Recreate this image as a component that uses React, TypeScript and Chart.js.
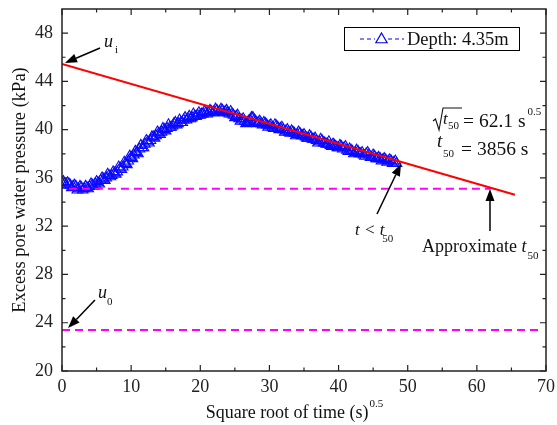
import React, { useEffect, useRef } from "react";
import { Chart, registerables } from "chart.js";

Chart.register(...registerables);

// ---- data ----
const sqrtTime = [
  0, 0.2, 0.4, 0.6, 0.8, 1, 1.2, 1.4, 1.6, 1.8,
  2, 2.2, 2.4, 2.6, 2.8, 3, 3.2, 3.4, 3.6, 3.8,
  4, 4.2, 4.4, 4.6, 4.8, 5, 5.2, 5.4, 5.6, 5.8,
  6, 6.2, 6.4, 6.6, 6.8, 7, 7.2, 7.4, 7.6, 7.8,
  8, 8.2, 8.4, 8.6, 8.8, 9, 9.2, 9.4, 9.6, 9.8,
  10, 10.2, 10.4, 10.6, 10.8, 11, 11.2, 11.4, 11.6, 11.8,
  12, 12.2, 12.4, 12.6, 12.8, 13, 13.2, 13.4, 13.6, 13.8,
  14, 14.2, 14.4, 14.6, 14.8, 15, 15.2, 15.4, 15.6, 15.8,
  16, 16.2, 16.4, 16.6, 16.8, 17, 17.2, 17.4, 17.6, 17.8,
  18, 18.2, 18.4, 18.6, 18.8, 19, 19.2, 19.4, 19.6, 19.8,
  20, 20.2, 20.4, 20.6, 20.8, 21, 21.2, 21.4, 21.6, 21.8,
  22, 22.2, 22.4, 22.6, 22.8, 23, 23.2, 23.4, 23.6, 23.8,
  24, 24.2, 24.4, 24.6, 24.8, 25, 25.2, 25.4, 25.6, 25.8,
  26, 26.2, 26.4, 26.6, 26.8, 27, 27.2, 27.4, 27.6, 27.8,
  28, 28.2, 28.4, 28.6, 28.8, 29, 29.2, 29.4, 29.6, 29.8,
  30, 30.2, 30.4, 30.6, 30.8, 31, 31.2, 31.4, 31.6, 31.8,
  32, 32.2, 32.4, 32.6, 32.8, 33, 33.2, 33.4, 33.6, 33.8,
  34, 34.2, 34.4, 34.6, 34.8, 35, 35.2, 35.4, 35.6, 35.8,
  36, 36.2, 36.4, 36.6, 36.8, 37, 37.2, 37.4, 37.6, 37.8,
  38, 38.2, 38.4, 38.6, 38.8, 39, 39.2, 39.4, 39.6, 39.8,
  40, 40.2, 40.4, 40.6, 40.8, 41, 41.2, 41.4, 41.6, 41.8,
  42, 42.2, 42.4, 42.6, 42.8, 43, 43.2, 43.4, 43.6, 43.8,
  44, 44.2, 44.4, 44.6, 44.8, 45, 45.2, 45.4, 45.6, 45.8,
  46, 46.2, 46.4, 46.6, 46.8, 47, 47.2, 47.4, 47.6, 47.8,
  48, 48.2, 48.4,
];
const pressure = [
  35.6, 35.7, 35.5, 35.4, 35.6, 35.5, 35.4, 35.2, 35.3, 35.4,
  35.3, 35.0, 35.1, 35.3, 35.2, 35.0, 35.1, 35.3, 35.2, 35.1,
  35.3, 35.5, 35.4, 35.3, 35.5, 35.7, 35.6, 35.5, 35.8, 36.0,
  35.9, 35.8, 36.0, 36.3, 36.2, 36.1, 36.2, 36.5, 36.4, 36.3,
  36.5, 36.9, 36.8, 36.7, 36.9, 37.3, 37.2, 37.1, 37.4, 37.8,
  37.7, 37.6, 37.9, 38.2, 38.1, 38.0, 38.4, 38.7, 38.5, 38.5,
  38.8, 39.1, 39.0, 38.9, 39.1, 39.4, 39.4, 39.3, 39.5, 39.8,
  39.7, 39.6, 39.8, 40.1, 40.0, 39.9, 40.1, 40.4, 40.2, 40.2,
  40.3, 40.5, 40.6, 40.4, 40.5, 40.8, 40.6, 40.6, 40.8, 41.0,
  40.8, 40.9, 41.1, 40.9, 41.0, 41.3, 41.1, 41.1, 41.2, 41.4,
  41.2, 41.3, 41.3, 41.5, 41.4, 41.3, 41.4, 41.6, 41.5, 41.4,
  41.5, 41.7, 41.6, 41.4, 41.5, 41.7, 41.6, 41.4, 41.5, 41.6,
  41.4, 41.3, 41.5, 41.3, 41.2, 41.0, 41.1, 41.2, 40.9, 40.7,
  40.8, 40.9, 40.7, 40.5, 40.6, 40.7, 40.8, 41.0, 41.0, 40.8,
  40.7, 40.5, 40.6, 40.7, 40.5, 40.4, 40.6, 40.5, 40.4, 40.2,
  40.3, 40.4, 40.2, 40.1, 40.4, 40.3, 40.2, 40.0, 40.1, 40.2,
  40.0, 39.8, 39.9, 40.0, 39.8, 39.7, 39.9, 39.8, 39.7, 39.5,
  39.6, 39.8, 39.7, 39.5, 39.5, 39.6, 39.4, 39.3, 39.3, 39.5,
  39.4, 39.2, 39.2, 39.3, 39.1, 38.9, 39.0, 39.2, 39.1, 38.9,
  38.9, 38.8, 38.8, 39.0, 38.7, 38.6, 38.8, 38.7, 38.6, 38.5,
  38.5, 38.7, 38.6, 38.4, 38.5, 38.6, 38.3, 38.2, 38.4, 38.3,
  38.2, 38.0, 38.1, 38.3, 38.2, 38.0, 38.0, 38.1, 37.9, 37.8,
  38.0, 38.1, 37.9, 37.7, 37.7, 37.9, 37.8, 37.6, 37.6, 37.7,
  37.6, 37.4, 37.5, 37.6, 37.5, 37.3, 37.4, 37.5, 37.4, 37.2,
  37.3, 37.4, 37.2,
];
const fitLineX = [0, 65.5];
const fitLineY = [45.45, 34.6];
const halfLineX = [1, 62];
const halfLineY = [35.1, 35.1];
const u0LineX = [0, 69.5];
const u0LineY = [23.4, 23.4];

const xMajorTicks = [0, 10, 20, 30, 40, 50, 60, 70];
const xMinorTicks = [5, 15, 25, 35, 45, 55, 65];
const yMajorTicks = [20, 24, 28, 32, 36, 40, 44, 48];
const yMinorTicks = [22, 26, 30, 34, 38, 42, 46];

const seriesLabel = "Depth: 4.35m";
const xTitle = "Square root of time (s)";
const xTitleSup = "0.5";
const yTitle = "Excess pore water pressure (kPa)";

const FONT = '"Liberation Serif", "Times New Roman", serif';
const AXIS_COLOR = "#222";

const pts = (xs: number[], ys: number[]) => xs.map((x, i) => ({ x, y: ys[i] }));

function arrow(ctx: CanvasRenderingContext2D, x1: number, y1: number, x2: number, y2: number) {
  const ang = Math.atan2(y2 - y1, x2 - x1);
  const hl = 12, hw = 4.5;
  const bx = x2 - hl * Math.cos(ang), by = y2 - hl * Math.sin(ang);
  ctx.strokeStyle = "#000";
  ctx.fillStyle = "#000";
  ctx.lineWidth = 1.5;
  ctx.beginPath();
  ctx.moveTo(x1, y1);
  ctx.lineTo(bx, by);
  ctx.stroke();
  ctx.beginPath();
  ctx.moveTo(x2, y2);
  ctx.lineTo(bx + hw * Math.sin(ang), by - hw * Math.cos(ang));
  ctx.lineTo(bx - hw * Math.sin(ang), by + hw * Math.cos(ang));
  ctx.closePath();
  ctx.fill();
}

function txt(ctx: CanvasRenderingContext2D, s: string, x: number, y: number, size: number, italic = false, align: CanvasTextAlign = "left") {
  ctx.font = `${italic ? "italic " : ""}${size}px ${FONT}`;
  ctx.textAlign = align;
  ctx.textBaseline = "alphabetic";
  ctx.fillStyle = "#111";
  ctx.fillText(s, x, y);
  return ctx.measureText(s).width;
}

const overlay = {
  id: "overlay",
  afterDraw(chart: any) {
    const { ctx, chartArea: a, scales } = chart;
    const xs = scales.x, ys = scales.y;
    const X = (v: number) => xs.getPixelForValue(v);
    const Y = (v: number) => ys.getPixelForValue(v);
    ctx.save();

    // frame
    ctx.strokeStyle = AXIS_COLOR;
    ctx.lineWidth = 1.5;
    ctx.strokeRect(a.left, a.top, a.right - a.left, a.bottom - a.top);

    // inward ticks
    ctx.lineWidth = 1.2;
    ctx.beginPath();
    const tick = (vals: number[], len: number) => {
      vals.forEach((v) => {
        const px = X(v);
        ctx.moveTo(px, a.bottom); ctx.lineTo(px, a.bottom - len);
        ctx.moveTo(px, a.top); ctx.lineTo(px, a.top + len);
      });
    };
    const ytick = (vals: number[], len: number) => {
      vals.forEach((v) => {
        const py = Y(v);
        ctx.moveTo(a.left, py); ctx.lineTo(a.left + len, py);
        ctx.moveTo(a.right, py); ctx.lineTo(a.right - len, py);
      });
    };
    tick(xMajorTicks, 6); tick(xMinorTicks, 3.5);
    ytick(yMajorTicks, 6); ytick(yMinorTicks, 3.5);
    ctx.stroke();

    // axis titles
    ctx.font = `18px ${FONT}`;
    const wMain = ctx.measureText(xTitle).width;
    ctx.font = `11px ${FONT}`;
    const wSup = ctx.measureText(xTitleSup).width;
    const cx = (a.left + a.right) / 2 - 10;
    const sx = cx - (wMain + wSup) / 2;
    txt(ctx, xTitle, sx, a.bottom + 47, 18);
    txt(ctx, xTitleSup, sx + wMain + 1, a.bottom + 36, 11);

    ctx.save();
    ctx.translate(25, (a.top + a.bottom) / 2);
    ctx.rotate(-Math.PI / 2);
    txt(ctx, yTitle, 0, 0, 18.5, false, "center");
    ctx.restore();

    // legend
    const lx = a.right - 202, ly = a.top + 18, lw = 175, lh = 23;
    ctx.fillStyle = "#fff";
    ctx.fillRect(lx, ly, lw, lh);
    ctx.strokeStyle = "#000";
    ctx.lineWidth = 1;
    ctx.strokeRect(lx + 0.5, ly + 0.5, lw, lh);
    const my = ly + 12;
    ctx.strokeStyle = "#0000ff";
    ctx.lineWidth = 1;
    ctx.setLineDash([4, 3]);
    ctx.beginPath();
    ctx.moveTo(lx + 16, my); ctx.lineTo(lx + 31, my);
    ctx.moveTo(lx + 44, my); ctx.lineTo(lx + 60, my);
    ctx.stroke();
    ctx.setLineDash([]);
    const tr = 6.5, tcx = lx + 37.5, tcy = my + 0.5;
    ctx.lineWidth = 1.2;
    ctx.beginPath();
    ctx.moveTo(tcx, tcy - tr);
    ctx.lineTo(tcx + tr * 0.866, tcy + tr / 2);
    ctx.lineTo(tcx - tr * 0.866, tcy + tr / 2);
    ctx.closePath();
    ctx.stroke();
    txt(ctx, seriesLabel, lx + 63, ly + 18, 18.5);

    // u_i
    txt(ctx, "u", X(6.07), Y(46.85), 18, true);
    txt(ctx, "i", X(7.67), Y(46.35), 11);
    arrow(ctx, X(5.5), Y(46.77), X(0.43), Y(45.53));

    // u_0
    txt(ctx, "u", X(5.21), Y(26.05), 18, true);
    txt(ctx, "0", X(6.51), Y(25.47), 11);
    arrow(ctx, X(4.77), Y(25.88), X(0.87), Y(23.56));

    // t < t50
    txt(ctx, "t < t", X(42.38), Y(31.27), 17, true);
    txt(ctx, "50", X(46.3), Y(30.69), 11);
    arrow(ctx, X(45.56), Y(33.01), X(49.03), Y(37.16));

    // Approximate t50
    const w1 = txt(ctx, "Approximate ", X(52.07), Y(29.86), 18);
    txt(ctx, "t", X(52.07) + w1, Y(29.86), 18, true);
    txt(ctx, "50", X(52.07) + w1 + 6, Y(29.3), 11);
    arrow(ctx, X(61.9), Y(31.6), X(61.9), Y(35.08));

    // sqrt(t50) = 62.1 s^0.5
    const ax = X(53.66), ay = Y(40.22);
    ctx.strokeStyle = "#111";
    ctx.lineWidth = 1.1;
    ctx.beginPath();
    ctx.moveTo(ax, ay - 6);
    ctx.lineTo(ax + 2.5, ay - 8);
    ctx.lineTo(ax + 6, ay + 3);
    ctx.lineTo(ax + 10, ay - 19);
    ctx.lineTo(ax + 29, ay - 19);
    ctx.stroke();
    txt(ctx, "t", ax + 10, ay - 3, 17, true);
    txt(ctx, "50", ax + 15, ay + 2, 11);
    const w2 = txt(ctx, "= 62.1 s", ax + 30, ay, 19.5);
    txt(ctx, "0.5", ax + 30 + w2 + 2, ay - 12, 11);

    // t50 = 3856 s
    const bx = X(54.24), by = Y(38.56);
    txt(ctx, "t", bx, by, 19, true);
    txt(ctx, "50", bx + 6, by + 10, 11);
    txt(ctx, "= 3856 s", bx + 24, by + 8, 19.5);

    ctx.restore();
  },
};

export default function App() {
  const ref = useRef<HTMLCanvasElement | null>(null);
  useEffect(() => {
    document.body.style.margin = "0";
    const canvas = ref.current!;
    const chart = new Chart(canvas, {
      type: "scatter",
      data: {
        datasets: [
          {
            label: "fit",
            data: pts(fitLineX, fitLineY),
            showLine: true,
            borderColor: "#ff0000",
            borderWidth: 2,
            pointRadius: 0,
            order: 0,
          },
          {
            label: "half",
            data: pts(halfLineX, halfLineY),
            showLine: true,
            borderColor: "#ff00ff",
            borderWidth: 2,
            borderDash: [8, 5],
            pointRadius: 0,
            order: 1,
          },
          {
            label: "u0",
            data: pts(u0LineX, u0LineY),
            showLine: true,
            borderColor: "#ff00ff",
            borderWidth: 2,
            borderDash: [8, 5],
            pointRadius: 0,
            order: 2,
          },
          {
            label: seriesLabel,
            data: pts(sqrtTime, pressure),
            showLine: false,
            pointStyle: "triangle",
            pointRadius: 6,
            borderColor: "#0a0aff",
            backgroundColor: "rgba(0,0,0,0)",
            borderWidth: 1.1,
            order: 3,
          },
        ],
      },
      options: {
        animation: false,
        responsive: false,
        devicePixelRatio: 1,
        layout: { padding: { top: 9, right: 11, left: 0, bottom: 0 } },
        plugins: { legend: { display: false }, tooltip: { enabled: false } },
        scales: {
          x: {
            type: "linear",
            min: 0,
            max: 70,
            grid: { display: false, drawTicks: false },
            border: { display: false },
            ticks: { font: { family: FONT, size: 18 }, color: AXIS_COLOR, padding: 5 },
            afterBuildTicks: (s: any) => { s.ticks = xMajorTicks.map((v) => ({ value: v })); },
            afterFit: (s: any) => {
              s.height = 54;
              s.paddingLeft = 0; s.paddingRight = 0; s.paddingTop = 0; s.paddingBottom = 0;
            },
          },
          y: {
            type: "linear",
            min: 20,
            max: 50,
            grid: { display: false, drawTicks: false },
            border: { display: false },
            ticks: { font: { family: FONT, size: 18 }, color: AXIS_COLOR, padding: 9 },
            afterBuildTicks: (s: any) => { s.ticks = yMajorTicks.map((v) => ({ value: v })); },
            afterFit: (s: any) => {
              s.width = 62;
              s.paddingLeft = 0; s.paddingRight = 0; s.paddingTop = 0; s.paddingBottom = 0;
            },
          },
        },
      },
      plugins: [overlay],
    } as any);
    return () => chart.destroy();
  }, []);
  return (
    <canvas ref={ref} width={557} height={425} style={{ display: "block", width: 557, height: 425 }} />
  );
}
